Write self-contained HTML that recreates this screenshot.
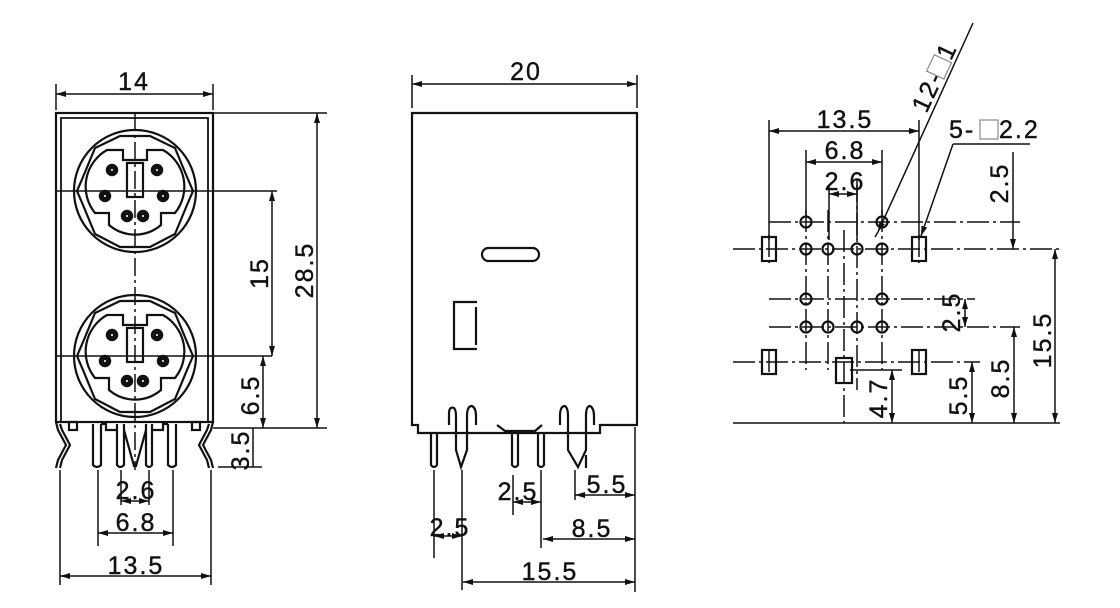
<!DOCTYPE html>
<html><head><meta charset="utf-8"><style>
html,body{margin:0;padding:0;background:#fff}
svg{display:block}
text{font-family:"Liberation Sans",sans-serif;font-size:25px;fill:#111;letter-spacing:2px;stroke:#111;stroke-width:0.4}
</style></head><body>
<svg width="1120" height="608" viewBox="0 0 1120 608" xmlns="http://www.w3.org/2000/svg">
<defs>
<marker id="a" viewBox="0 0 10 6" refX="10" refY="3" markerWidth="7" markerHeight="4" orient="auto-start-reverse"><path d="M0,0L10,3L0,6z" fill="#111"/></marker>
<g id="pn"><circle r="5.5" fill="#111"/><circle r="1.8" fill="#fff"/></g>
<g id="sock" fill="none" stroke="#111">
<circle r="61" stroke-width="2.2"/>
<path d="M-15,-55L15,-55L40,-43L52,-14L58,0L52,14L40,43L15,56L-15,56L-40,43L-52,14L-58,0L-52,-14L-40,-43Z" stroke-width="2.2"/>
<path d="M-12,-41L-12,-31L12,-31L12,-41L28,-41A42,42 0 0 1 40,22L26,22L26,34A40,40 0 0 1 -26,34L-26,22L-40,22A42,42 0 0 1 -28,-41Z" stroke-width="2.2"/>
<rect x="-8" y="-28" width="16" height="34" stroke-width="2.2"/>
<use href="#pn" x="-23" y="-21"/><use href="#pn" x="22" y="-21"/><use href="#pn" x="-30" y="5"/><use href="#pn" x="28" y="5"/><use href="#pn" x="-8" y="25"/><use href="#pn" x="8" y="25"/>
</g>
<g id="hole"><circle r="5.5" fill="none" stroke="#111" stroke-width="2.2"/></g>
<g id="sq"><rect x="-7" y="-12" width="14" height="24" fill="none" stroke="#111" stroke-width="2.2"/></g>
</defs>
<g stroke="#111" fill="none" stroke-width="1.5">
<!-- VIEW 1 -->
<rect x="56" y="113" width="157" height="309" stroke-width="2.2"/>
<path d="M61,422V118H208V422" stroke-width="1.8"/>
<path d="M56,84V110M213,84V110"/>
<line x1="56" y1="94" x2="213" y2="94" marker-start="url(#a)" marker-end="url(#a)"/>
<path d="M135,113V470" stroke-dasharray="18,4,3,4"/>
<path d="M56,191H213M56,356H213" />
<use href="#sock" x="135" y="191"/>
<use href="#sock" x="135" y="356"/>
<g stroke-width="2.2">
<path d="M56,422L58,430L66,445L58,460L56,468M60,468L62,460L70,445L62,430L60,424"/>
<path d="M213,422L211,430L203,445L211,460L213,468M209,468L207,460L199,445L207,430L209,424"/>
<rect x="69" y="422" width="8" height="8"/><rect x="192" y="422" width="8" height="8"/>
<path d="M93,424V465Q97,469 101,465V424"/>
<path d="M117,424V465Q120,469 124,465V424"/>
<path d="M124,430L134,466L136,466L146,430"/>
<path d="M146,424V465Q149,469 152,465V424"/>
<path d="M168,424V465Q172,469 176,465V424"/>
<path d="M101,424H106V430H117M152,430H163V424H168"/>
</g>
<path d="M213,113H327M213,428H327M218,467H262M213,356H272M213,191H277"/>
<line x1="272" y1="191" x2="272" y2="356" marker-start="url(#a)" marker-end="url(#a)"/>
<line x1="317" y1="113" x2="317" y2="428" marker-start="url(#a)" marker-end="url(#a)"/>
<line x1="263" y1="356" x2="263" y2="428" marker-start="url(#a)" marker-end="url(#a)"/>
<line x1="253" y1="428" x2="253" y2="467"/>
<path d="M121,470V505M149,470V505M98,470V546M173,470V546M60,470V585M211,470V585"/>
<line x1="121" y1="501" x2="149" y2="501" marker-start="url(#a)" marker-end="url(#a)"/>
<line x1="98" y1="533" x2="173" y2="533" marker-start="url(#a)" marker-end="url(#a)"/>
<line x1="60" y1="576" x2="211" y2="576" marker-start="url(#a)" marker-end="url(#a)"/>
<!-- VIEW 2 -->
<path d="M412,75V108M637,75V108"/>
<line x1="412" y1="84" x2="637" y2="84" marker-start="url(#a)" marker-end="url(#a)"/>
<path d="M412,113H637V425H600V433H418V425H412Z" stroke-width="2.2"/>
<rect x="482" y="248" width="57" height="13" rx="6.5" stroke-width="2.2"/>
<path d="M477,302H454V349H477M476,307V345" stroke-width="2.2"/>
<g stroke-width="2.2">
<path d="M431,433V465Q434,469 437,465V433"/>
<path d="M449,425V414Q449,406 454,408Q456,410 456,416V450L461,467L467,450V416Q467,406 472,406Q476,408 476,416V425"/>
<path d="M512,433V465Q515,469 518,465V433"/>
<path d="M538,433V465Q541,469 544,465V433"/>
<path d="M560,425V416Q560,406 565,406Q568,408 568,416V450L578,467L586,450V416Q586,406 590,406Q594,408 594,416V425"/>
<path d="M586,455V468M497,425L505,431H535L542,425"/>
</g>
<path d="M434,470V558M462,470V590M513,475V515M541,470V548M575,470V500M635,427V592"/>
<line x1="575" y1="495" x2="635" y2="495" marker-start="url(#a)" marker-end="url(#a)"/>
<line x1="543" y1="539" x2="635" y2="539" marker-start="url(#a)" marker-end="url(#a)"/>
<line x1="463" y1="582" x2="635" y2="582" marker-start="url(#a)" marker-end="url(#a)"/>
<line x1="513" y1="502" x2="541" y2="502" marker-start="url(#a)" marker-end="url(#a)"/>
<line x1="434" y1="536" x2="462" y2="536" marker-start="url(#a)" marker-end="url(#a)"/>
<!-- VIEW 3 -->
<path d="M733,423H1060"/>
<g stroke-dasharray="22,4,3,4">
<path d="M733,249H1060M733,362H980M769,222H1020M769,299H975M769,327H1020"/>
<path d="M806,210V370M828,210V370M857,180V390M882,210V370M844,230V423"/>
<path d="M769,235V263M919,235V263M769,350V375M919,350V375"/>
</g>
<path d="M769,120V240M919,120V240M806,150V215M882,150V215M829,185V240M857,185V240"/>
<line x1="769" y1="131" x2="919" y2="131" marker-start="url(#a)" marker-end="url(#a)"/>
<line x1="806" y1="162" x2="882" y2="162" marker-start="url(#a)" marker-end="url(#a)"/>
<line x1="829" y1="194" x2="857" y2="194" marker-start="url(#a)" marker-end="url(#a)"/>
<line x1="1013" y1="152" x2="1013" y2="249" marker-end="url(#a)"/>
<line x1="1055" y1="249" x2="1055" y2="423" marker-start="url(#a)" marker-end="url(#a)"/>
<line x1="1014" y1="327" x2="1014" y2="423" marker-start="url(#a)" marker-end="url(#a)"/>
<line x1="972" y1="362" x2="972" y2="423" marker-start="url(#a)" marker-end="url(#a)"/>
<line x1="892" y1="370" x2="892" y2="423" marker-start="url(#a)" marker-end="url(#a)"/>
<line x1="965" y1="299" x2="965" y2="327" marker-start="url(#a)" marker-end="url(#a)"/>
<path d="M850,370H902"/>
<line x1="973" y1="23" x2="878" y2="232" marker-end="url(#a)"/>
<path d="M875,237L878,232"/>
<path d="M1030,144H953"/>
<line x1="953" y1="144" x2="921" y2="236" marker-end="url(#a)"/>
</g>
<g>
<use href="#hole" x="806" y="222"/><use href="#hole" x="882" y="222"/>
<use href="#hole" x="806" y="249"/><use href="#hole" x="828" y="249"/><use href="#hole" x="857" y="249"/><use href="#hole" x="882" y="249"/>
<use href="#hole" x="806" y="299"/><use href="#hole" x="882" y="299"/>
<use href="#hole" x="806" y="327"/><use href="#hole" x="828" y="327"/><use href="#hole" x="857" y="327"/><use href="#hole" x="882" y="327"/>
<use href="#sq" x="769" y="249"/><use href="#sq" x="919" y="249"/>
<use href="#sq" x="769" y="362"/><use href="#sq" x="919" y="362"/>
<rect x="836" y="358" width="16" height="25" fill="none" stroke="#111" stroke-width="2.2"/>
</g>
<text x="134" y="90" text-anchor="middle">14</text>
<text x="526" y="80" text-anchor="middle">20</text>
<text transform="translate(268,273) rotate(-90)" text-anchor="middle">15</text>
<text transform="translate(313,270) rotate(-90)" text-anchor="middle">28.5</text>
<text transform="translate(259,395) rotate(-90)" text-anchor="middle">6.5</text>
<text transform="translate(249,450) rotate(-90)" text-anchor="middle">3.5</text>
<text x="136" y="499" text-anchor="middle">2.6</text>
<text x="136" y="531" text-anchor="middle">6.8</text>
<text x="136" y="574" text-anchor="middle">13.5</text>
<text x="518" y="500" text-anchor="middle">2.5</text>
<text x="450" y="536" text-anchor="middle">2.5</text>
<text x="607" y="493" text-anchor="middle">5.5</text>
<text x="592" y="537" text-anchor="middle">8.5</text>
<text x="550" y="580" text-anchor="middle">15.5</text>
<text x="845" y="128" text-anchor="middle">13.5</text>
<text x="845" y="159" text-anchor="middle">6.8</text>
<text x="845" y="190" text-anchor="middle">2.6</text>
<text transform="translate(1008,183) rotate(-90)" text-anchor="middle">2.5</text>
<text transform="translate(960,312) rotate(-90)" text-anchor="middle">2.5</text>
<text transform="translate(1051,340) rotate(-90)" text-anchor="middle">15.5</text>
<text transform="translate(1009,378) rotate(-90)" text-anchor="middle">8.5</text>
<text transform="translate(967,395) rotate(-90)" text-anchor="middle">5.5</text>
<text transform="translate(887,398) rotate(-90)" text-anchor="middle">4.7</text>
<text x="949" y="138">5-</text>
<rect x="980" y="120" width="18" height="19" fill="none" stroke="#888" stroke-width="1.2"/>
<text x="999" y="138">2.2</text>
<g transform="translate(940,85) rotate(-65)">
<text x="-32" y="0">12-</text>
<rect x="7" y="-18" width="18" height="19" fill="none" stroke="#888" stroke-width="1.2"/>
<text x="26" y="0">1</text>
</g>
</svg>
</body></html>
